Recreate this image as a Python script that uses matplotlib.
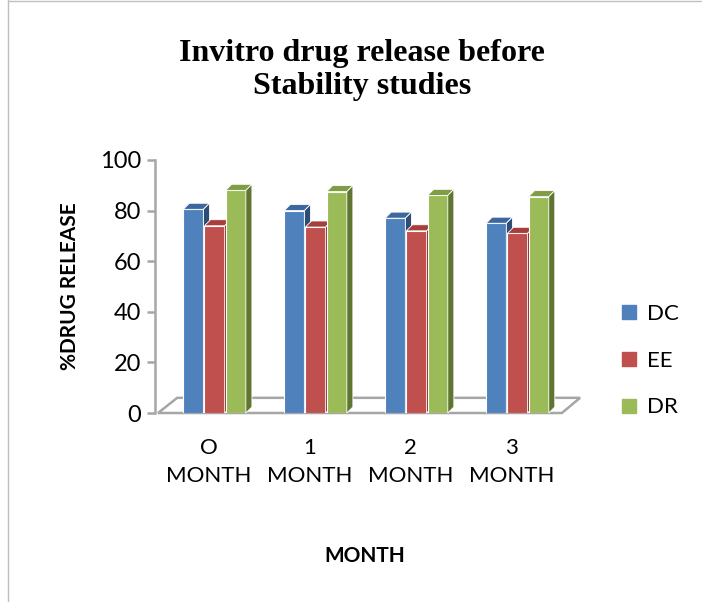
import matplotlib.pyplot as plt
from matplotlib.patches import Polygon
from matplotlib.lines import Line2D
import numpy as np

plt.rcParams["font.family"] = ["Lato", "DejaVu Sans"]

months = ["O\nMONTH", "1\nMONTH", "2\nMONTH", "3\nMONTH"]
series = ["DC", "EE", "DR"]
dc = [80.5, 80.0, 77.0, 75.0]
ee = [74.0, 73.5, 72.0, 71.0]
dr = [88.0, 87.5, 86.0, 85.5]

front = ["#4F81BD", "#C0504D", "#9BBB59"]
side = ["#2C4D75", "#8C302D", "#5F7530"]
top = ["#3C689F", "#A63F3C", "#7F9D45"]

fig = plt.figure(figsize=(7.02, 6.02), dpi=100)
ax = fig.add_axes([155 / 702, (602 - 413) / 602, 420 / 702, 253 / 602])
ax.set_xlim(-0.53, 3.63)
ax.set_ylim(0, 100)

x = np.arange(len(months))
w = 0.2
dx, dy = 0.06, 2.4   # fake depth of the 3d columns

# floor
floor = Polygon([(-0.5, 0), (3.5, 0), (3.68, 6), (-0.31, 6)], closed=True,
                facecolor="white", edgecolor="#A6A6A6", lw=1.8, clip_on=False, zorder=1)
ax.add_patch(floor)

handles = []
for k, vals in enumerate([dc, ee, dr]):
    xs = x + 0.06 + (k - 1) * 0.21
    b = ax.bar(xs, vals, w, color=front[k], edgecolor="white", lw=0.8, zorder=3, label=series[k])
    handles.append(b)
    for xc, h in zip(xs, vals):
        x0, x1 = xc - w / 2, xc + w / 2
        ax.add_patch(Polygon([(x0, h), (x1, h), (x1 + dx, h + dy), (x0 + dx, h + dy)],
                             facecolor=top[k], edgecolor="white", lw=0.6, zorder=3, clip_on=False))
        ax.add_patch(Polygon([(x1, 0), (x1, h), (x1 + dx, h + dy), (x1 + dx, dy)],
                             facecolor=side[k], edgecolor="white", lw=0.6, zorder=3, clip_on=False))

for s in ["top", "right", "bottom"]:
    ax.spines[s].set_visible(False)
ax.spines["left"].set_color("#A6A6A6")
ax.spines["left"].set_linewidth(1.8)
ax.set_yticks(range(0, 101, 20))
ax.tick_params(axis="y", colors="#A6A6A6", length=6, width=1.8, labelsize=17, labelcolor="black", pad=4)
ax.set_xticks(x)
ax.set_xticklabels(months, fontsize=16, linespacing=1.5)
ax.tick_params(axis="x", length=0, pad=18)

ax.set_ylabel("%DRUG RELEASE", fontsize=15, fontweight="bold", labelpad=14)
fig.text(365 / 702, 1 - 556 / 602, "MONTH", ha="center", va="center", fontsize=15, fontweight="bold")

fig.text(362 / 702, 1 - 70 / 602, "Invitro drug release before\nStability studies",
         ha="center", va="center", fontsize=23, fontweight="bold", family="Liberation Serif",
         linespacing=1.2)

leg = fig.legend(handles=[Line2D([], [], marker="s", ls="", color=c, markersize=10) for c in front],
                 labels=series, loc="upper left", bbox_to_anchor=(600 / 702, 1 - 284 / 602),
                 frameon=False, fontsize=16, handlelength=0.8, handletextpad=0.4, labelspacing=1.2)

# chart border
fig.add_artist(Line2D([8 / 702, 8 / 702], [0, 1], color="#BFBFBF", lw=1))
fig.add_artist(Line2D([8 / 702, 1], [0.998, 0.998], color="#BFBFBF", lw=1))

fig.savefig("out.png", dpi=100)
